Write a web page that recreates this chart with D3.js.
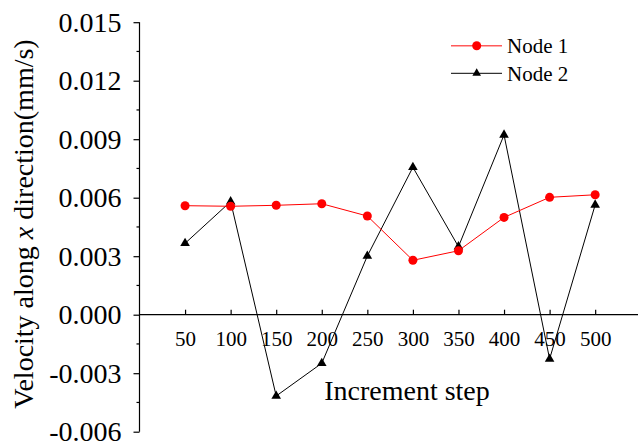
<!DOCTYPE html>
<html>
<head>
<meta charset="utf-8">
<script src="https://cdn.jsdelivr.net/npm/d3@7"></script>
<style>
  html, body { margin: 0; padding: 0; background: #fff; }
  svg text { font-family: "Liberation Serif", Tinos, "Times New Roman", Times, "DejaVu Serif", serif; fill: #000; }
</style>
</head>
<body>
<svg id="chart" width="639" height="444"></svg>
<script>
// Increment steps and the x-direction velocity recorded at two nodes
const steps = [50, 100, 150, 200, 250, 300, 350, 400, 450, 500];
const node1 = [0.00559, 0.00556, 0.00561, 0.00569, 0.00506, 0.00279, 0.00328, 0.00499, 0.00602, 0.00615];
const node2 = [0.00366, 0.00580, -0.00417, -0.00249, 0.00301, 0.00756, 0.00349, 0.00922, -0.00227, 0.00563];
const yTicks = [-0.006, -0.003, 0, 0.003, 0.006, 0.009, 0.012, 0.015];
const yMinorTicks = [-0.0045, -0.0015, 0.0015, 0.0045, 0.0075, 0.0105, 0.0135];
const seriesNames = ["Node 1", "Node 2"];

const serif = '"Liberation Serif", Tinos, "Times New Roman", Times, "DejaVu Serif", serif';

const svg = d3.select("#chart");

const x = d3.scaleLinear().domain([0, 547]).range([139.5, 638]);
const y = d3.scaleLinear().domain([-0.006, 0.015]).range([431.7, 22.2]);

// Y axis: major ticks with labels, minor ticks without
const yAxis = svg.append("g").attr("transform", `translate(${x(0)},0)`)
  .call(d3.axisLeft(y).tickValues(yTicks).tickSize(6).tickPadding(12)
    .tickFormat(d => d3.format(".3f")(d).replace("−", "-")));
yAxis.attr("font-family", serif);
yAxis.select(".domain").attr("d", `M0,${y(0.015)}V${y(-0.006)}`);
yAxis.selectAll("text").attr("font-size", 28);
yAxis.selectAll("line, path").attr("stroke", "#000").attr("stroke-width", 1.2);

svg.append("g").attr("transform", `translate(${x(0)},0)`)
  .selectAll("line").data(yMinorTicks).join("line")
  .attr("x1", -3).attr("x2", 0)
  .attr("y1", d => y(d)).attr("y2", d => y(d))
  .attr("stroke", "#000").attr("stroke-width", 1.2);

// X axis along the zero line, ticks pointing up, labels below
const xAxis = svg.append("g").attr("transform", `translate(0,${y(0)})`)
  .call(d3.axisBottom(x).tickValues(steps).tickSize(-5).tickSizeOuter(0).tickPadding(16));
xAxis.attr("font-family", serif);
xAxis.select(".domain").attr("d", `M${x(0)},0H638`);
xAxis.selectAll("text").attr("font-size", 21).attr("dy", "0.71em");
xAxis.selectAll("line, path").attr("stroke", "#000").attr("stroke-width", 1.2);

// Axis titles
svg.append("text")
  .attr("x", 407).attr("y", 400)
  .attr("text-anchor", "middle").attr("font-size", 28)
  .attr("font-family", serif)
  .text("Increment step");

const yTitle = svg.append("text")
  .attr("transform", "translate(33,224) rotate(-90)")
  .attr("text-anchor", "middle").attr("font-size", 28)
  .attr("font-family", serif);
yTitle.append("tspan").text("Velocity along ");
yTitle.append("tspan").attr("font-style", "italic").text("x");
yTitle.append("tspan").text(" direction(mm/s)");

const line = d3.line().x((d, i) => x(steps[i])).y(d => y(d));
const tri = d3.symbol().type(d3.symbolTriangle).size(40);

// Node 2: black line with triangles
svg.append("path").datum(node2)
  .attr("d", line).attr("fill", "none").attr("stroke", "#000").attr("stroke-width", 1);
svg.append("g").selectAll("path").data(node2).join("path")
  .attr("d", tri)
  .attr("transform", (d, i) => `translate(${x(steps[i])},${y(d)})`)
  .attr("fill", "#000");

// Node 1: red line with circles
svg.append("path").datum(node1)
  .attr("d", line).attr("fill", "none").attr("stroke", "#ff0000").attr("stroke-width", 1);
svg.append("g").selectAll("circle").data(node1).join("circle")
  .attr("cx", (d, i) => x(steps[i])).attr("cy", d => y(d))
  .attr("r", 4.5).attr("fill", "#ff0000");

// Legend
const legend = svg.append("g");
const legendRows = [
  { name: seriesNames[0], y: 45.7, color: "#ff5a5a", marker: "circle" },
  { name: seriesNames[1], y: 73.3, color: "#000", marker: "triangle" }
];
legendRows.forEach(r => {
  legend.append("line")
    .attr("x1", 451).attr("x2", 502).attr("y1", r.y).attr("y2", r.y)
    .attr("stroke", r.color).attr("stroke-width", r.marker === "circle" ? 1.5 : 1);
  if (r.marker === "circle") {
    legend.append("circle").attr("cx", 476.7).attr("cy", r.y).attr("r", 4.5).attr("fill", "#ff0000");
  } else {
    legend.append("path").attr("d", d3.symbol().type(d3.symbolTriangle).size(32))
      .attr("transform", `translate(476.7,${r.y})`).attr("fill", "#000");
  }
  legend.append("text")
    .attr("x", 507).attr("y", r.y + 7.3)
    .attr("font-size", 21)
    .attr("font-family", serif)
    .text(r.name);
});
</script>
</body>
</html>
